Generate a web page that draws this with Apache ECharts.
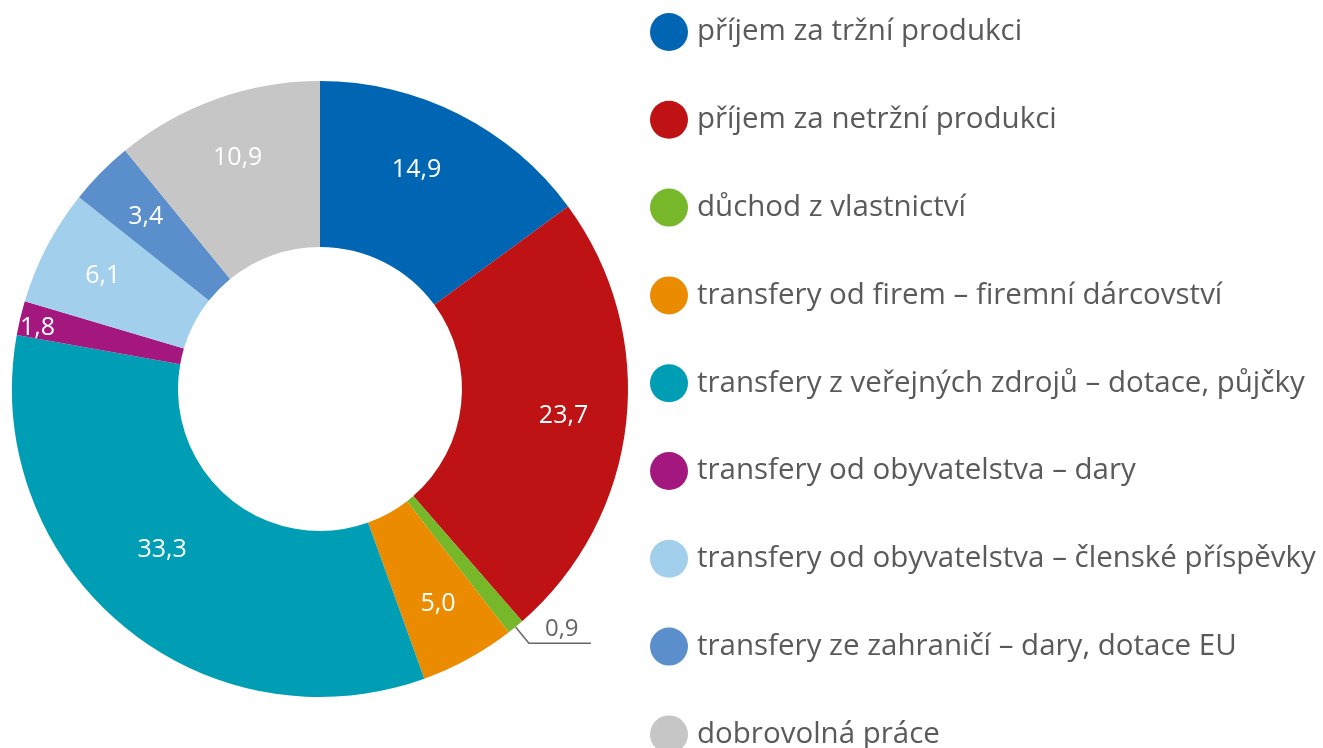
<!DOCTYPE html>
<html>
<head>
<meta charset="utf-8">
<script src="https://cdn.jsdelivr.net/npm/echarts@6/dist/echarts.min.js"></script>
<style>
  html, body { margin: 0; padding: 0; background: #fff; }
  #chart { width: 1323px; height: 748px; }
</style>
</head>
<body>
<div id="chart"></div>
<script>
const categories = [
  'příjem za tržní produkci',
  'příjem za netržní produkci',
  'důchod z vlastnictví',
  'transfery od firem – firemní dárcovství',
  'transfery z veřejných zdrojů – dotace, půjčky',
  'transfery od obyvatelstva – dary',
  'transfery od obyvatelstva – členské příspěvky',
  'transfery ze zahraničí – dary, dotace EU',
  'dobrovolná práce'
];
const values = [14.9, 23.7, 0.9, 5.0, 33.3, 1.8, 6.1, 3.4, 10.9];
const colors = ['#0066b3', '#be1214', '#77b82a', '#eb8c00', '#009eb4', '#a3177e', '#a2cfec', '#5b8fcb', '#c6c6c6'];

const fmt = v => v.toFixed(1).replace('.', ',');
const font = '"Open Sans", sans-serif';

const chart = echarts.init(document.getElementById('chart'));

// hlavní prstenec, jen malá výseč má popisek venku
const ringData = categories.map((name, i) => {
  const item = { name, value: values[i], itemStyle: { color: colors[i] } };
  if (i === 2) {
    item.label = {
      show: true,
      position: 'outside',
      formatter: '{v|' + fmt(values[i]) + '}',
      rich: { v: { color: '#666', fontSize: 24, fontFamily: font, padding: [0, 0, 28, 0] } },
      distanceToLabelLine: -46
    };
    item.labelLine = { show: true, length: 21, length2: 62, smooth: false, lineStyle: { color: '#666', width: 1.5 } };
  }
  return item;
});

// průhledná vrstva jen pro vnitřní popisky (drobné posuny jako v předloze)
const labelPadding = {
  0: [0, 28, 0, 0],
  4: [0, 0, 52, 0],
  5: [0, 88, 10, 0]
};
const rich = {};
categories.forEach((c, i) => {
  rich['t' + i] = { color: '#fff', fontSize: 25, fontFamily: font, padding: labelPadding[i] || 0 };
});
const labelData = categories.map((name, i) => {
  const item = { name, value: values[i] };
  if (i === 2) item.label = { show: false };
  return item;
});

chart.setOption({
  backgroundColor: '#fff',
  animation: false,
  legend: {
    orient: 'vertical',
    left: 645,
    top: 8,
    height: 800,
    icon: 'circle',
    itemWidth: 38,
    itemHeight: 38,
    itemGap: 49.8,
    selectedMode: false,
    data: categories,
    textStyle: { color: '#5a5a5a', fontSize: 29.5, fontFamily: font, padding: [0, 0, 0, 4] }
  },
  series: [
    {
      type: 'pie',
      center: [320, 389],
      radius: [142, 308],
      startAngle: 90,
      clockwise: true,
      avoidLabelOverlap: false,
      label: { show: false },
      labelLine: { show: false },
      emphasis: { disabled: true },
      data: ringData
    },
    {
      type: 'pie',
      center: [320, 389],
      radius: [176, 308],
      startAngle: 90,
      clockwise: true,
      silent: true,
      avoidLabelOverlap: false,
      legendHoverLink: false,
      itemStyle: { color: 'transparent' },
      label: {
        show: true,
        position: 'inside',
        formatter: p => '{t' + p.dataIndex + '|' + fmt(p.value) + '}',
        rich
      },
      labelLine: { show: false },
      data: labelData
    }
  ]
});
</script>
</body>
</html>
